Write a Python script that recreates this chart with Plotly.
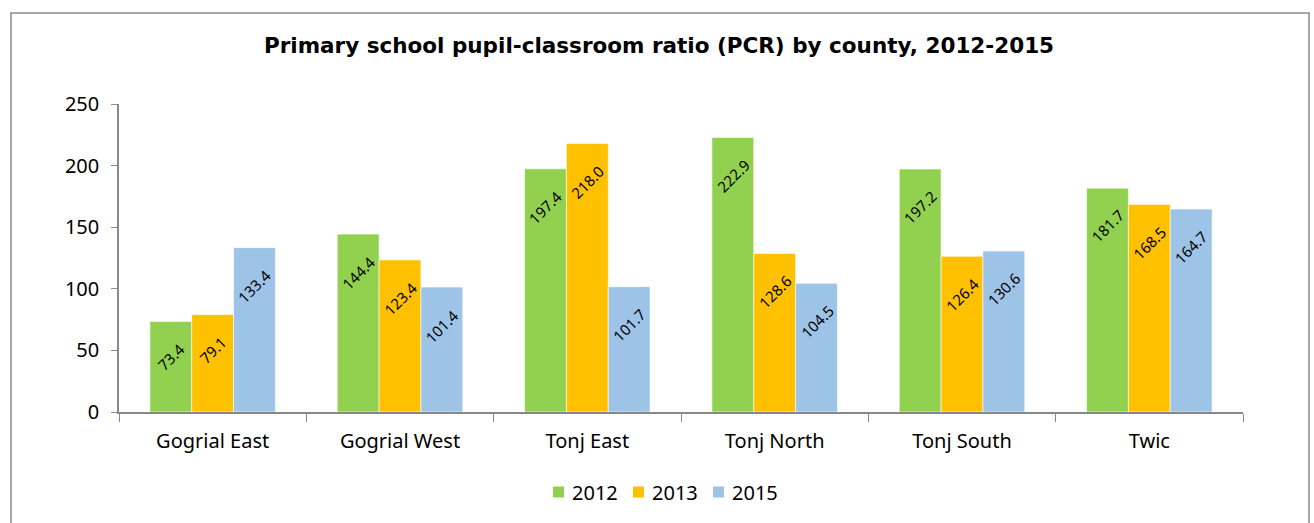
import plotly.graph_objects as go

counties = ["Gogrial East", "Gogrial West", "Tonj East", "Tonj North", "Tonj South", "Twic"]
pcr_2012 = [73.4, 144.4, 197.4, 222.9, 197.2, 181.7]
pcr_2013 = [79.1, 123.4, 218.0, 128.6, 126.4, 168.5]
pcr_2015 = [133.4, 101.4, 101.7, 104.5, 130.6, 164.7]
y_ticks = [0, 50, 100, 150, 200, 250]

series = [
    ("2012", pcr_2012, "#92D050"),
    ("2013", pcr_2013, "#FFC000"),
    ("2015", pcr_2015, "#9DC3E6"),
]

FONT = "Noto Sans"
TITLE_FONT = "DejaVu Sans"
W, H = 1314, 523
L, R, T, B = 119, 71, 104, 111
BARGAP = 0.33
pw, ph = W - L - R, H - T - B


def px(x):
    """pixel x -> paper x"""
    return (x - L) / pw


def py(y):
    """pixel y (from top) -> paper y"""
    return (H - B - y) / ph


fig = go.Figure()
for name, vals, color in series:
    fig.add_trace(go.Bar(
        x=counties, y=vals, name=name, showlegend=False,
        marker=dict(color=color, line=dict(color="rgba(255,255,255,0.6)", width=1)),
    ))

# value labels, rotated and tucked just under the top of each bar
bar_w = (1 - BARGAP) / len(series)
for k, (name, vals, color) in enumerate(series):
    offset = (k - (len(series) - 1) / 2) * bar_w
    for i, v in enumerate(vals):
        fig.add_annotation(
            x=i + offset, y=v, xref="x", yref="y",
            text=f"{v:.1f}", showarrow=False, textangle=-45,
            xanchor="center", yanchor="top", yshift=-15,
            font=dict(family=FONT, size=15, color="black"),
        )

# compact legend: small square swatch followed closely by the year
LEG_X0, LEG_STEP, LEG_Y, SW = 553, 80, 492, 11
for k, (name, vals, color) in enumerate(series):
    x0 = LEG_X0 + k * LEG_STEP
    fig.add_shape(type="rect", xref="paper", yref="paper",
                  x0=px(x0), x1=px(x0 + SW), y0=py(LEG_Y + SW / 2), y1=py(LEG_Y - SW / 2),
                  line=dict(width=0), fillcolor=color)
    fig.add_annotation(x=px(x0 + SW + 6), y=py(LEG_Y), xref="paper", yref="paper",
                       text=name, showarrow=False, xanchor="left", yanchor="middle",
                       font=dict(family=FONT, size=20, color="black"))

# chart-area frame
fig.add_shape(type="rect", xref="paper", yref="paper",
              x0=px(11), x1=px(1309), y0=py(600), y1=py(13),
              line=dict(color="#A6A6A6", width=2), fillcolor="rgba(0,0,0,0)", layer="below")

fig.update_layout(
    width=W, height=H,
    margin=dict(l=L, r=R, t=T, b=B),
    paper_bgcolor="white", plot_bgcolor="white",
    barmode="group", bargap=BARGAP, bargroupgap=0,
    font=dict(family=FONT, size=20, color="black"),
    title=dict(text="<b>Primary school pupil-classroom ratio (PCR) by county, 2012-2015</b>",
               x=659 / W, xanchor="center", y=1 - 45 / H, yanchor="middle",
               font=dict(family=TITLE_FONT, size=21.5, color="black")),
    xaxis=dict(showline=True, linecolor="#888888", linewidth=1.5,
               ticks="outside", tickson="boundaries", ticklen=8, tickcolor="#888888",
               showgrid=False, tickfont=dict(size=20), ticklabelstandoff=10),
    yaxis=dict(range=[0, 250], tickvals=y_ticks, showline=True, linecolor="#888888", linewidth=1.5,
               ticks="outside", ticklen=6, tickcolor="#888888", showgrid=False, zeroline=False,
               tickfont=dict(size=20), ticklabelstandoff=8),
    showlegend=False,
)

fig.write_html("out.html")
